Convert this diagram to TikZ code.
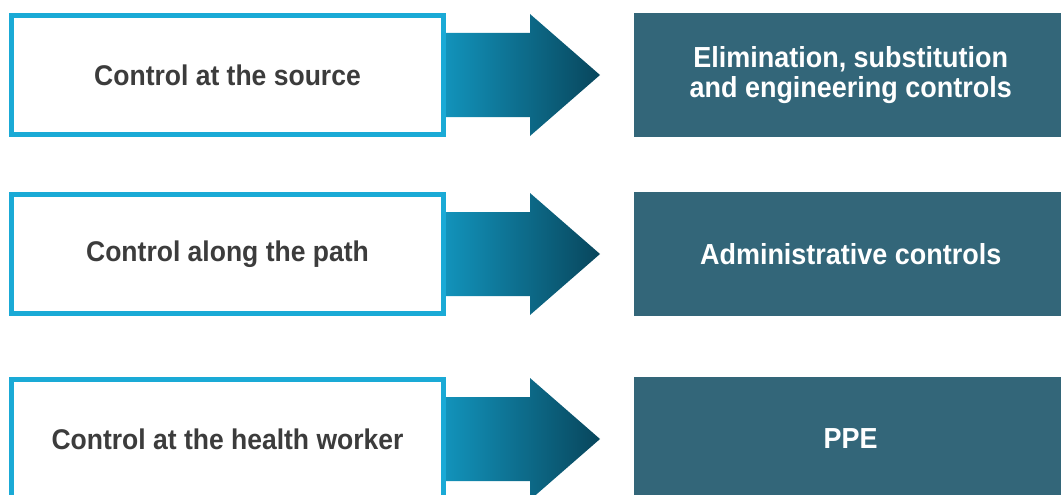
\documentclass[tikz,border=0pt]{standalone}
\usepackage{fontspec}
\setmainfont{Liberation Sans}[FakeStretch=0.93]
\usetikzlibrary{positioning}
\usetikzlibrary{calc}

\definecolor{srcblue}{RGB}{26,170,214}
\definecolor{ctrlteal}{RGB}{51,102,121}
\definecolor{arrowlight}{RGB}{18,146,186}
\definecolor{arrowdark}{RGB}{8,70,92}
\definecolor{labelgray}{RGB}{60,60,60}

\begin{document}
\begin{tikzpicture}[x=1pt, y=-1pt,
	srcbox/.style={draw=srcblue, line width=5pt, fill=white, minimum width=432pt, minimum height=119pt, text=labelgray, font=\bfseries\fontsize{28.5}{31}\selectfont},
	ctrlbox/.style={fill=ctrlteal, minimum width=433pt, minimum height=124pt, text=white, align=center, font=\bfseries\fontsize{29}{30.5}\selectfont}]

	% fix the page to the size of the reference
	\useasboundingbox (0,0) rectangle (1061,495);

	% one row per level of control
	\foreach \i/\y/\srctext/\ctrltext in {1/75/{Control at the source}/{Elimination, substitution\\and engineering controls},
		2/254/{Control along the path}/{Administrative controls},
		3/439/{Control at the health worker}/{PPE}} {
		\node[srcbox] (src\i) at (227.5,\y) {\srctext};
		\node[ctrlbox, right=188pt of src\i] (ctrl\i) {\ctrltext};

		% block arrow from the source box to the control box
		\shade[left color=arrowlight, right color=arrowdark]
			($(src\i.east)+(0,-42)$) -- ($(src\i.east)+(84,-42)$) -- ($(src\i.east)+(84,-61)$)
			-- ($(ctrl\i.west)+(-34,0)$)
			-- ($(src\i.east)+(84,61)$) -- ($(src\i.east)+(84,42)$) -- ($(src\i.east)+(0,42)$) -- cycle;
	}
\end{tikzpicture}
\end{document}
